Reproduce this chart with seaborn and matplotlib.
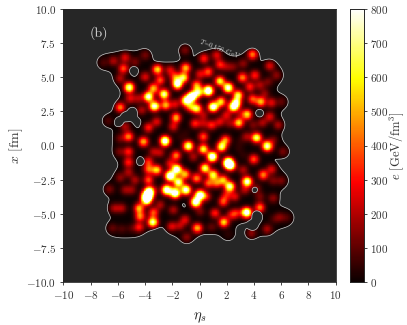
import numpy as np
import pandas as pd
import seaborn as sns
import matplotlib
matplotlib.use("Agg")
import matplotlib.pyplot as plt

sns.set_style("ticks")
plt.rcParams.update({
    "font.family": "cmr10", "mathtext.fontset": "cm",
    "axes.formatter.use_mathtext": True, "axes.unicode_minus": False,
})

# hot spots: rapidity, position, energy density
eta_spots = [-0.57,0.65,-1.62,2.11,1.50,-1.18,-3.75,-2.60,-3.31,-2.48,1.01,-0.21,1.58,2.48,2.84,2.72,-5.16,-3.09,-1.01,-5.58,
 -5.82,-1.72,3.50,2.89,4.51,3.90,3.16,4.07,0.33,3.90,5.16,1.50,0.65,0.04,-0.21,-2.16,-2.53,-0.82,0.28,1.62,
 4.19,4.92,1.92,-4.11,-5.21,-3.75,-5.46,-0.33,0.89,1.50,-1.92,-3.14,5.16,5.78,4.63,5.29,6.02,5.65,4.80,-5.46,
 -6.31,-7.05,-3.99,-4.73,-1.06,1.26,3.21,2.48,-3.99,-5.82,-2.89,-3.38,-5.09,-4.48,-4.24,-6.68,-1.79,-0.70,3.70,4.43,
 5.04,1.99,0.28,5.41,-5.82,2.97,2.23,0.28,3.46,-1.79,1.99,3.94,
 2.11,0.94,0.28,-5.21,-5.87,-3.38,-2.89,-1.72,-0.45,-1.67,-2.16,-3.14,-3.75,-5.21,-5.21,-5.82,-4.73,-3.75,-1.06,-1.55,
 0.40,1.01,-0.21,-2.41,-1.79,-0.99,0.04,-0.28,0.65,-3.82,-3.7,-3.9,-4.43,-3.38,-4.36,-3.43,-4.43,-6.24,-5.70,-6.61,
 -5.46,-4.97,-6.39,-2.04,-1.43,-0.16,-0.94,0.89,1.79,2.11,3.46,2.72,2.36,3.82,4.97,4.43,5.90,5.41,6.02,5.41,
 4.68,5.29,6.14,5.04,3.99,2.23,3.50,2.60,1.75,1.14,0.52,1.26,1.75,4.19,3.21,-1.92,-2.89,-1.06,0.04,-3.38,
 1.99,4.43,3.33,-2.16,-3.75,
 -1.0,-1.4,2.9,3.0,3.2,-5.70,-5.0,5.5,6.4,-1.0,-0.1,2.3]
x_spots = [3.58,4.02,4.51,4.24,4.73,4.99,3.58,3.77,2.89,2.97,2.84,2.72,3.21,2.84,3.70,3.14,4.26,5.58,5.70,5.65,
 2.80,2.04,2.28,1.67,3.21,3.41,4.99,5.16,6.39,6.68,5.85,5.95,5.41,5.24,4.43,5.53,0.33,-0.04,0.65,-0.09,
 0.57,-0.01,0.40,0.28,0.65,1.31,1.38,1.62,1.50,1.75,1.38,1.75,2.11,1.50,1.67,3.14,3.21,5.16,3.82,6.46,
 6.21,6.09,6.63,6.14,7.00,6.63,6.02,5.78,5.04,4.92,4.80,4.19,3.46,3.46,2.60,1.82,3.04,2.84,4.31,4.43,
 4.68,5.78,2.23,0.40,0.52,2.36,1.62,1.62,0.65,5.04,2.23,1.50,
 -1.26,-0.82,-0.26,-0.45,-0.45,-0.45,-0.53,-0.74,-0.82,-1.75,-2.24,-1.80,-1.75,-1.23,-1.97,-2.36,-2.53,-2.53,-2.11,-2.70,
 -1.67,-2.16,-2.41,-3.26,-3.50,-3.26,-3.63,-4.16,-2.77,-3.70,-3.4,-4.0,-4.60,-4.92,-5.21,-5.63,-6.00,-4.60,-4.60,-3.21,
 -3.26,-3.26,-6.07,-5.95,-5.90,-6.07,-6.73,-5.99,-5.63,-6.51,-4.92,-4.97,-5.09,-6.43,-6.14,-4.55,-5.26,-3.87,-2.58,-2.58,
 -2.16,-1.75,-0.45,-0.09,-1.01,-3.02,-2.65,-3.75,-4.12,-4.97,-3.75,-2.77,-2.53,-3.14,-1.80,-4.73,-4.36,-5.46,-4.85,-3.26,
 -3.63,-3.75,-3.26,-1.31,-1.19,
 0.9,0.6,-0.2,0.3,-0.7,-6.14,-6.1,-5.4,-5.3,3.3,3.9,-1.5]
e_spots = [800,800,700,650,500,500,650,600,650,400,700,500,450,600,500,500,600,450,400,300,
 350,400,450,450,400,300,350,250,250,350,200,250,300,200,350,200,750,600,300,550,
 550,350,350,400,350,250,150,250,250,200,200,200,200,150,150,200,80,120,120,200,
 150,60,100,100,100,200,120,100,200,150,300,400,200,150,150,60,200,300,250,150,
 100,120,150,100,100,100,120,150,150,300,200,100,
 800,750,500,250,100,150,150,350,150,700,750,450,300,250,150,120,150,300,400,600,
 550,500,350,700,750,650,700,700,300,800,600,600,400,300,350,600,250,150,150,100,
 120,120,80,200,150,400,120,80,450,30,750,200,200,120,150,350,100,120,100,100,
 350,200,100,300,300,600,650,200,300,250,200,300,400,100,150,150,150,200,100,100,
 200,100,150,200,250,
 30,30,30,30,30,60,60,60,60,550,500,500]
# gaps inside the hot region: rapidity, position
eta_holes = [-5.9,-5.4,-4.9,-4.85,4.43,-4.3,4.06,4.2,3.9]
x_holes = [1.7,2.1,2.5,5.53,2.36,-1.19,-3.26,-5.1,-5.9]

eta_ticks = [-10, -8, -6, -4, -2, 0, 2, 4, 6, 8, 10]
x_ticks = [-10.0, -7.5, -5.0, -2.5, 0.0, 2.5, 5.0, 7.5, 10.0]
cbar_ticks = [0, 100, 200, 300, 400, 500, 600, 700, 800]

N = 400
eta_axis = np.linspace(-10, 10, N)
x_axis = np.linspace(-10, 10, N)
E, X = np.meshgrid(eta_axis, x_axis)
field = np.zeros_like(E)
support = np.zeros_like(E)
for a, b, c in zip(eta_spots, x_spots, e_spots):
    r2 = (E - a) ** 2 + (X - b) ** 2
    field += 1.25 * c * np.exp(-r2 / (2 * 0.26 ** 2))
    support += np.exp(-r2 / (2 * 0.47 ** 2))
for a, b in zip(eta_holes, x_holes):
    r2 = (E - a) ** 2 + (X - b) ** 2
    support -= 2.5 * np.exp(-r2 / (2 * 0.17 ** 2))
LEVEL = 0.62
frame = pd.DataFrame(field, index=x_axis, columns=eta_axis)

fig = plt.figure(figsize=(4.07, 3.25), dpi=100)
ax = fig.add_axes([63 / 407, 1 - 282 / 325, 273 / 407, 273 / 325])
cax = fig.add_axes([350 / 407, 1 - 282 / 325, 14 / 407, 273 / 325])
ax.set_facecolor("#262626")
sns.heatmap(frame, ax=ax, cbar_ax=cax, cmap="hot", vmin=0, vmax=800, mask=support < LEVEL,
            xticklabels=False, yticklabels=False, rasterized=True,
            cbar_kws={"ticks": cbar_ticks})
ax.invert_yaxis()
to_idx = lambda v: (np.asarray(v) + 10) / 20 * (N - 1) + 0.5
cs = ax.contour(to_idx(eta_axis), to_idx(x_axis), support, levels=[LEVEL], colors="#cfcfcf", linewidths=0.5)
ax.set_xticks(to_idx(eta_ticks))
ax.set_xticklabels([f"${v}$" for v in eta_ticks], fontsize=8, color="#333333")
ax.set_yticks(to_idx(x_ticks))
ax.set_yticklabels([f"${v}$" for v in x_ticks], fontsize=8, color="#333333")
ax.tick_params(length=2.5, width=0.6, left=True, bottom=True, rotation=0, pad=2.5)
for s in ax.spines.values():
    s.set_visible(True)
    s.set_linewidth(0.6)
ax.text(to_idx(0), -0.13 * N, r"$\eta_s$", fontsize=10.5, ha="center", va="center", color="#222222")
ax.set_ylabel(r"$x$ [fm]", fontsize=10, labelpad=1, color="#333333")
ax.text(to_idx(-7.4), to_idx(8.25), "(b)", color="#d8d8d8", fontsize=10, va="center", ha="center")
ax.text(to_idx(1.5), to_idx(7.15), r"$T$=0.156 GeV", color="#d8d8d8", fontsize=5,
        rotation=-21, va="center", ha="center")
cax.tick_params(length=2.5, width=0.6, labelsize=8, labelcolor="#333333", pad=2)
for s in cax.spines.values():
    s.set_visible(True)
    s.set_linewidth(0.6)
cax.set_ylabel(r"$e$ [GeV/fm$^3$]", fontsize=9, color="#333333", labelpad=-0.5)
fig.savefig("out.png", dpi=100)
